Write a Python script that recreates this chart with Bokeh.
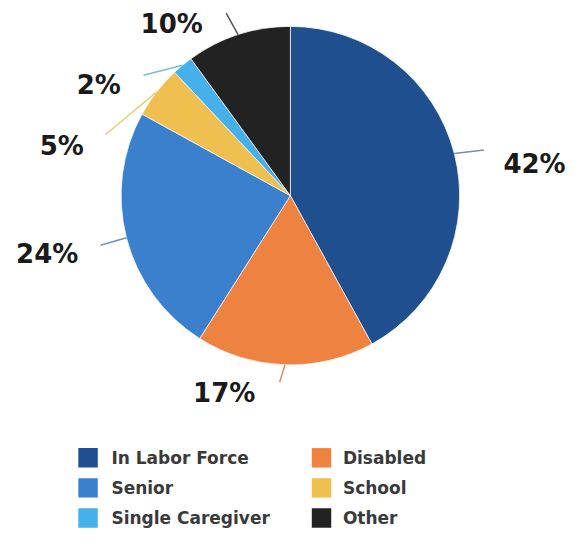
import math
from bokeh.plotting import figure
from bokeh.models import Range1d
from bokeh.core.properties import value
from bokeh.embed import file_html
from bokeh.resources import INLINE

# ---- data ----
categories = ["In Labor Force", "Disabled", "Senior", "School", "Single Caregiver", "Other"]
shares = [42, 17, 24, 5, 2, 10]
colors = ["#1f4f8f", "#ee8240", "#3a80cc", "#efc04f", "#46b0ea", "#222222"]
leader_colors = ["#7a8ca4", "#c89070", "#6f90b8", "#e2d07a", "#78bce4", "#555555"]

# ---- layout (reference pixel coordinates, scaled to the figure) ----
W, H = 571, 534
SX, SY = W / 587.0, H / 550.0
CENTER = (298, 201)
RADIUS = 174
LABEL_POS = [(549, 168), (230, 404), (48, 261), (63, 150), (101, 87), (176, 24)]
LEADER_END = [(497, 154), (287, 393), (103, 252), (108, 138), (147, 77), (232, 13)]
LEG_X = [90, 330]
LEG_TEXT_X = [114, 352]
LEG_Y = [471, 502, 533]
LEG_SIZE = 20


def dx(X):
    return X * SX


def dy(Y):
    return H - Y * SY


p = figure(width=W, height=H, x_range=Range1d(0, W), y_range=Range1d(0, H),
           output_backend="svg", toolbar_location=None, min_border=0)
p.axis.visible = False
p.grid.visible = False
p.outline_line_color = None
p.background_fill_color = "white"
p.border_fill_color = "white"

total = float(sum(shares))
cx, cy = dx(CENTER[0]), dy(CENTER[1])
r = RADIUS * SX
cum = 0.0
starts, ends, mids = [], [], []
for s in shares:
    a0 = math.pi / 2 - 2 * math.pi * cum / total
    a1 = math.pi / 2 - 2 * math.pi * (cum + s) / total
    starts.append(a0)
    ends.append(a1)
    mids.append((a0 + a1) / 2)
    cum += s

p.wedge(x=cx, y=cy, radius=r, start_angle=starts, end_angle=ends,
        direction="clock", fill_color=colors, line_color="white", line_width=1,
        line_alpha=0.7)

# leader lines
for i, m in enumerate(mids):
    x0 = cx + r * math.cos(m)
    y0 = cy + r * math.sin(m)
    ex, ey = dx(LEADER_END[i][0]), dy(LEADER_END[i][1])
    p.line([x0, ex], [y0, ey], line_color=leader_colors[i], line_width=1.5)

# percentage labels
pct = [f"{s}%" for s in shares]
p.text(x=[dx(a) for a, b in LABEL_POS], y=[dy(b) for a, b in LABEL_POS], text=pct,
       text_align="center", text_baseline="middle",
       text_font=value("DejaVu Sans"), text_font_style="bold",
       text_font_size="26px", text_color="#1a1a1a")

# legend
lx, ly, tx = [], [], []
for i in range(len(categories)):
    col = i % 2
    row = i // 2
    lx.append(dx(LEG_X[col]))
    ly.append(dy(LEG_Y[row]))
    tx.append(dx(LEG_TEXT_X[col]))
p.rect(x=lx, y=ly, width=LEG_SIZE * SX, height=LEG_SIZE * SX, fill_color=colors,
       line_color=None)
p.text(x=tx, y=ly, text=categories, text_align="left", text_baseline="middle",
       text_font=value("DejaVu Sans"), text_font_style="bold",
       text_font_size="17px", text_color="#3a3a3a")

open("out.html", "w").write(file_html(p, INLINE))
